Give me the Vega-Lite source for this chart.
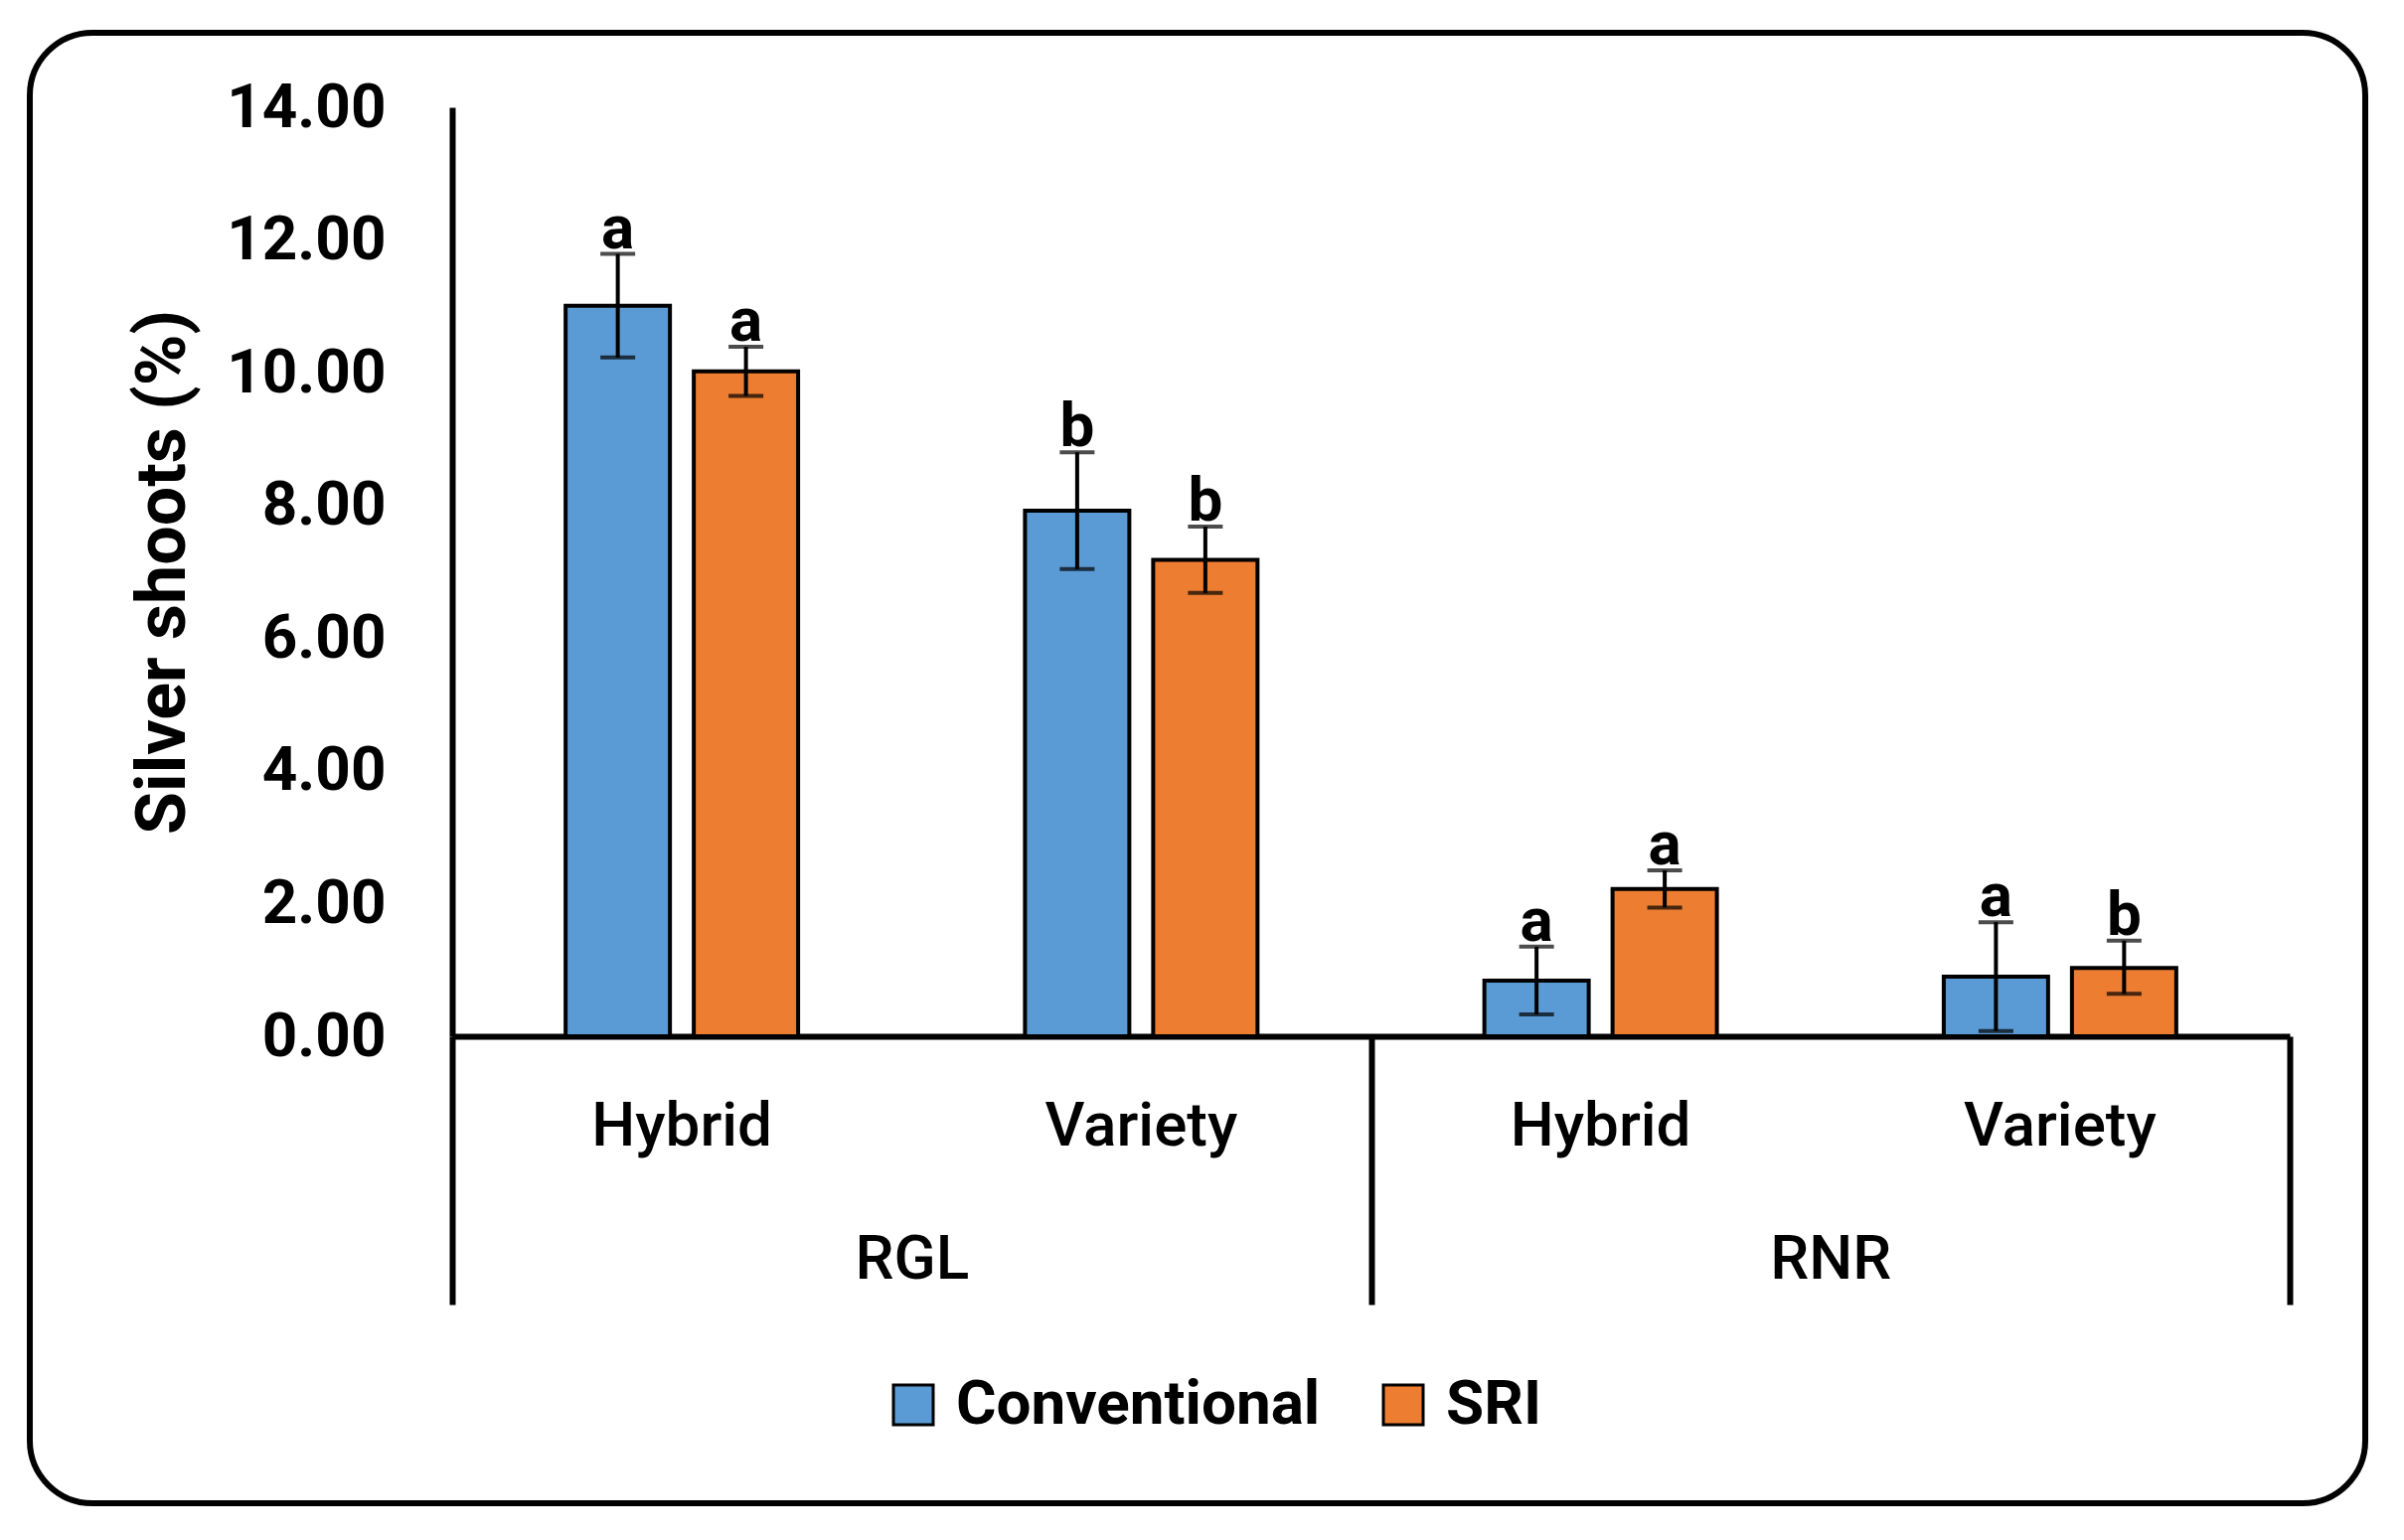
{
  "$schema": "https://vega.github.io/schema/vega-lite/v6.json",
  "autosize": "none",
  "padding": {"left": 30, "top": 33, "right": 39, "bottom": 37},
  "width": 2350,
  "height": 1480,
  "background": "white",
  "config": {
    "view": {"stroke": "black", "strokeWidth": 6, "cornerRadius": 63, "fill": "white"},
    "font": "Roboto",
    "axis": {"labelFont": "Roboto", "titleFont": "Roboto", "labelColor": "black", "titleColor": "black", "labelLimit": 0}
  },
  "data": {
    "values": [
      {"site": "RGL", "grp": "RGL Hybrid", "treat": "Conventional", "value": 11.01, "lo": 10.23, "hi": 11.79, "letter": "a"},
      {"site": "RGL", "grp": "RGL Hybrid", "treat": "SRI", "value": 10.02, "lo": 9.65, "hi": 10.39, "letter": "a"},
      {"site": "RGL", "grp": "RGL Variety", "treat": "Conventional", "value": 7.92, "lo": 7.04, "hi": 8.8, "letter": "b"},
      {"site": "RGL", "grp": "RGL Variety", "treat": "SRI", "value": 7.18, "lo": 6.68, "hi": 7.68, "letter": "b"},
      {"site": "RNR", "grp": "RNR Hybrid", "treat": "Conventional", "value": 0.84, "lo": 0.33, "hi": 1.35, "letter": "a"},
      {"site": "RNR", "grp": "RNR Hybrid", "treat": "SRI", "value": 2.22, "lo": 1.94, "hi": 2.5, "letter": "a"},
      {"site": "RNR", "grp": "RNR Variety", "treat": "Conventional", "value": 0.9, "lo": 0.08, "hi": 1.72, "letter": "a"},
      {"site": "RNR", "grp": "RNR Variety", "treat": "SRI", "value": 1.03, "lo": 0.64, "hi": 1.44, "letter": "b"}
    ]
  },
  "resolve": {"scale": {"x": "independent"}, "axis": {"x": "independent"}},
  "layer": [
    {
      "layer": [
        {
          "mark": {"type": "bar", "stroke": "black", "strokeWidth": 4},
          "encoding": {
            "x": {
              "field": "grp", "type": "nominal", "sort": null,
              "scale": {"range": [425, 2274], "paddingInner": 0, "paddingOuter": 0},
              "axis": {
                "orient": "bottom", "offset": -470, "title": null,
                "labelExpr": "split(datum.label, ' ')[1]",
                "labelFontSize": 62, "labelFontWeight": 500, "labelAngle": 0, "labelLimit": 0,
                "labelBaseline": "middle", "labelPadding": 90,
                "ticks": false, "domain": true, "domainColor": "black", "domainWidth": 6
              }
            },
            "xOffset": {
              "field": "treat", "type": "nominal",
              "scale": {"paddingInner": 0.186, "paddingOuter": 0.885}
            },
            "y": {
              "field": "value", "type": "quantitative",
              "scale": {"domain": [0, 14], "range": [1010, 75], "nice": false, "zero": true},
              "axis": {
                "offset": -425, "title": "Silver shoots (%)",
                "titleFontSize": 70, "titleFontWeight": "bold", "titlePadding": 55,
                "values": [0, 2, 4, 6, 8, 10, 12, 14], "format": ".2f",
                "labelFontSize": 62, "labelFontWeight": "bold", "labelPadding": 67,
                "ticks": false, "grid": false, "domain": true, "domainColor": "black", "domainWidth": 6
              }
            },
            "color": {
              "field": "treat", "type": "nominal",
              "scale": {"domain": ["Conventional", "SRI"], "range": ["#5B9BD5", "#ED7D31"]},
              "legend": {
                "orient": "none", "legendX": 858, "legendY": 1350, "direction": "horizontal",
                "title": null, "padding": 0,
                "symbolType": "square", "symbolSize": 1600, "symbolStrokeColor": "black", "symbolStrokeWidth": 3,
                "symbolOpacity": 1,
                "labelFontSize": 62, "labelFontWeight": "bold", "labelColor": "black", "labelFont": "Roboto",
                "labelLimit": 0, "labelOffset": 12, "columnPadding": 52
              }
            }
          }
        },
        {
          "mark": {"type": "rule", "color": "black", "strokeWidth": 4},
          "encoding": {
            "x": {"field": "grp", "type": "nominal", "sort": null},
            "xOffset": {"field": "treat", "type": "nominal"},
            "y": {"field": "lo", "type": "quantitative"},
            "y2": {"field": "hi"}
          }
        },
        {
          "mark": {"type": "tick", "color": "black", "size": 35, "thickness": 4, "orient": "horizontal"},
          "encoding": {
            "x": {"field": "grp", "type": "nominal", "sort": null},
            "xOffset": {"field": "treat", "type": "nominal"},
            "y": {"field": "lo", "type": "quantitative"}
          }
        },
        {
          "mark": {"type": "tick", "color": "black", "size": 35, "thickness": 4, "orient": "horizontal"},
          "encoding": {
            "x": {"field": "grp", "type": "nominal", "sort": null},
            "xOffset": {"field": "treat", "type": "nominal"},
            "y": {"field": "hi", "type": "quantitative"}
          }
        },
        {
          "mark": {"type": "text", "fontSize": 62, "fontWeight": "bold", "color": "black", "baseline": "alphabetic", "align": "center", "dy": -6, "font": "Roboto"},
          "encoding": {
            "x": {"field": "grp", "type": "nominal", "sort": null},
            "xOffset": {"field": "treat", "type": "nominal"},
            "y": {"field": "hi", "type": "quantitative"},
            "text": {"field": "letter"}
          }
        }
      ]
    },
    {
      "mark": {"type": "rule", "opacity": 0},
      "encoding": {
        "x": {
          "field": "site", "type": "nominal", "sort": null,
          "scale": {"range": [425, 2274], "paddingInner": 0, "paddingOuter": 0},
          "axis": {
            "orient": "bottom", "offset": -470, "title": null,
            "labelFontSize": 62, "labelFontWeight": 500, "labelAngle": 0, "labelColor": "black", "labelLimit": 0,
            "labelBaseline": "middle", "labelPadding": -46,
            "domain": false, "ticks": true, "tickBand": "extent", "tickSize": 270,
            "tickWidth": 6, "tickColor": "black"
          }
        }
      }
    }
  ]
}
